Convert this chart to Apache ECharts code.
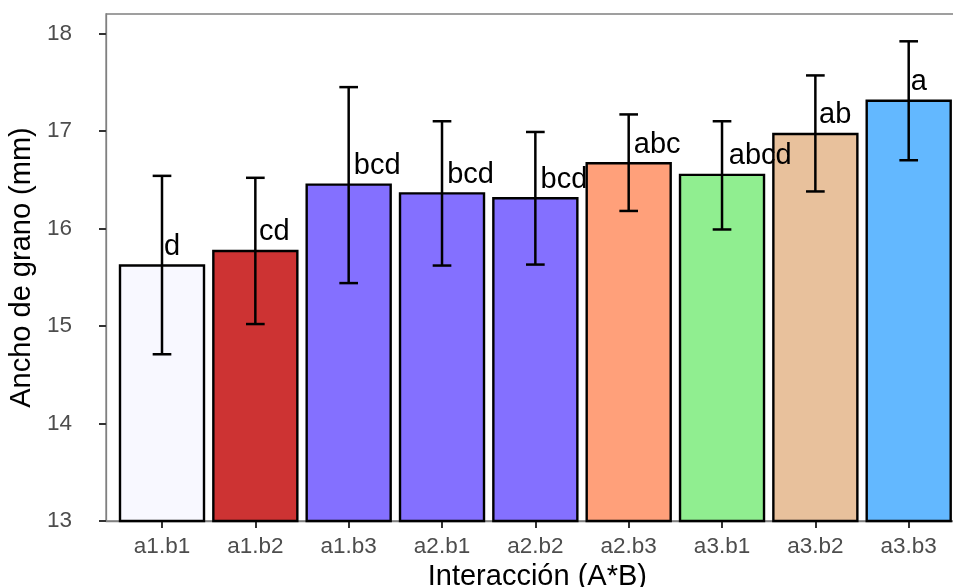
<!DOCTYPE html>
<html>
<head>
<meta charset="utf-8">
<script src="https://cdn.jsdelivr.net/npm/echarts@6/dist/echarts.min.js"></script>
<style>html,body{margin:0;padding:0;background:#fff;}#c{width:953px;height:587px;}</style>
</head>
<body>
<div id="c"></div>
<script>
const categories = ['a1.b1','a1.b2','a1.b3','a2.b1','a2.b2','a2.b3','a3.b1','a3.b2','a3.b3'];
const means = [15.62, 15.77, 16.45, 16.36, 16.31, 16.67, 16.55, 16.97, 17.31];
const errLow = [14.71, 15.02, 15.44, 15.62, 15.63, 16.18, 15.99, 16.38, 16.70];
const errHigh = [16.54, 16.52, 17.45, 17.10, 16.99, 17.17, 17.10, 17.57, 17.92];
const letters = ['d','cd','bcd','bcd','bcd','abc','abcd','ab','a'];
const barColors = ['#F8F8FF','#CD3333','#8470FF','#8470FF','#8470FF','#FFA07A','#90EE90','#E8C19C','#63B8FF'];
const yTicks = [13, 14, 15, 16, 17, 18];

const FONT = '"Liberation Sans", Arial, Helvetica, sans-serif';
const LETTER_SIZE = 29;
const mctx = document.createElement('canvas').getContext('2d');
mctx.font = LETTER_SIZE + 'px ' + FONT;
function textWidth(s) { return mctx.measureText(s).width; }

const idx = categories.map((_, i) => i);
const barData = idx.map(i => [i, means[i]]);
const errData = idx.map(i => [i, errLow[i], errHigh[i]]);
const letterData = idx.map(i => [i, means[i]]);

const chart = echarts.init(document.getElementById('c'), null, {renderer: 'canvas'});
chart.setOption({
  animation: false,
  grid: {left: 106, top: 14, bottom: 66, width: 858.7, outerBoundsMode: 'none', containLabel: false,
    show: true, borderColor: '#808080', borderWidth: 1.3, backgroundColor: 'transparent'},
  xAxis: {
    type: 'value', min: -0.6, max: 8.6,
    name: 'Interacción (A*B)', nameLocation: 'middle', nameGap: 38,
    nameTextStyle: {fontFamily: FONT, fontSize: 29, color: '#000', padding: [0, 0, 0, 4]},
    axisLine: {show: true, onZero: false, lineStyle: {color: '#808080', width: 1.3}},
    axisTick: {show: true, length: 7, lineStyle: {color: '#333', width: 2}, customValues: idx},
    axisLabel: {customValues: idx, margin: 14, fontFamily: FONT, fontSize: 22.5, color: '#4D4D4D',
      formatter: v => categories[Math.round(v)] || ''},
    splitLine: {show: false}
  },
  yAxis: {
    type: 'value', min: 13, max: 18.2,
    name: 'Ancho de grano (mm)', nameLocation: 'middle', nameGap: 70,
    nameTextStyle: {fontFamily: FONT, fontSize: 29, color: '#000'},
    axisLine: {show: true, onZero: false, lineStyle: {color: '#808080', width: 1.3}},
    axisTick: {show: true, length: 7, lineStyle: {color: '#333', width: 2}, customValues: yTicks},
    axisLabel: {customValues: yTicks, margin: 34, fontFamily: FONT, fontSize: 22.5, color: '#4D4D4D'},
    splitLine: {show: false}
  },
  series: [
    {
      type: 'custom', data: barData, clip: false,
      renderItem: function (params, api) {
        const i = api.value(0);
        const w = api.size([0.9, 0])[0];
        const top = api.coord([i, api.value(1)]);
        const base = api.coord([i, 13]);
        return {type: 'rect', shape: {x: top[0] - w / 2, y: top[1], width: w, height: base[1] - top[1]},
          style: {fill: barColors[i], stroke: '#000', lineWidth: 2.4}};
      }
    },
    {
      type: 'custom', data: errData, z: 3,
      renderItem: function (params, api) {
        const i = api.value(0);
        const lo = api.coord([i, api.value(1)]);
        const hi = api.coord([i, api.value(2)]);
        const cw = api.size([0.2, 0])[0] / 2;
        const st = {stroke: '#000', lineWidth: 2.5};
        return {type: 'group', children: [
          {type: 'line', shape: {x1: lo[0], y1: lo[1], x2: hi[0], y2: hi[1]}, style: st},
          {type: 'line', shape: {x1: lo[0] - cw, y1: lo[1], x2: lo[0] + cw, y2: lo[1]}, style: st},
          {type: 'line', shape: {x1: hi[0] - cw, y1: hi[1], x2: hi[0] + cw, y2: hi[1]}, style: st}
        ]};
      }
    },
    {
      type: 'custom', data: letterData, z: 4,
      renderItem: function (params, api) {
        const i = api.value(0);
        const p = api.coord([i, api.value(1)]);
        const t = letters[i];
        return {type: 'text', x: p[0] + 0.1 * textWidth(t) + 0.5, y: p[1] - 4,
          style: {text: t, fill: '#000', font: LETTER_SIZE + 'px ' + FONT, align: 'left', verticalAlign: 'bottom'}};
      }
    }
  ]
});
</script>
</body>
</html>
